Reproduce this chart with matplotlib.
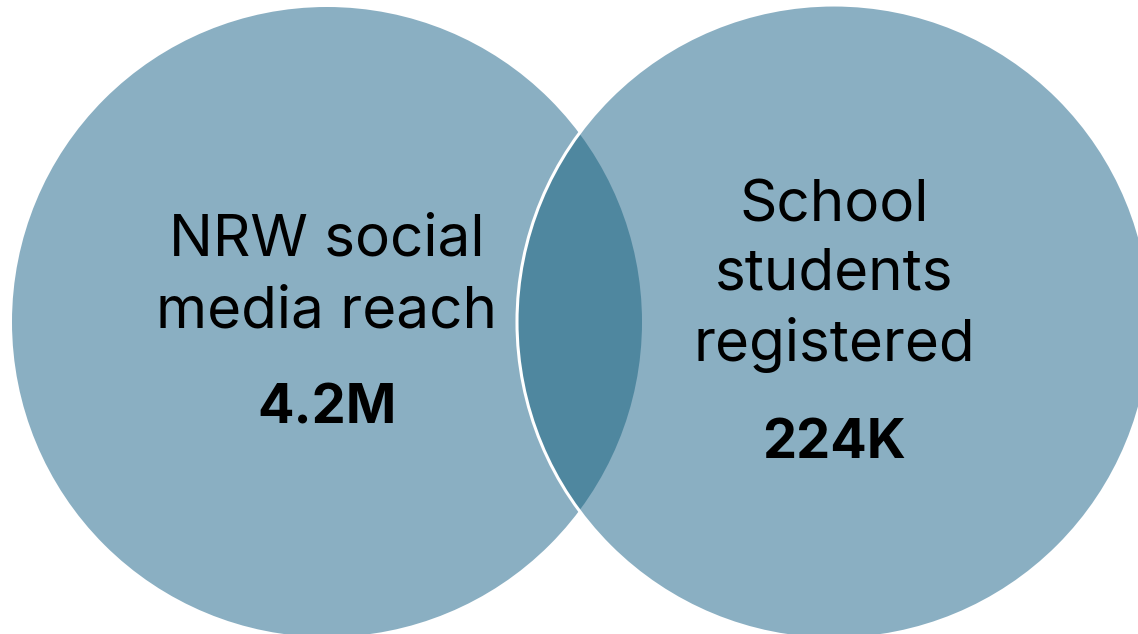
import matplotlib
matplotlib.use("Agg")
import matplotlib.pyplot as plt
from matplotlib.patches import Circle

# Data
set_labels = [["NRW social", "media reach"], ["School", "students", "registered"]]
set_values = ["4.2M", "224K"]

light = "#8AAFC2"
dark = "#4F879F"

W, H = 1138, 634
fig = plt.figure(figsize=(W / 100, H / 100), dpi=100)
ax = fig.add_axes([0, 0, 1, 1])
ax.set_xlim(0, W)
ax.set_ylim(H, 0)
ax.set_aspect("equal")
ax.axis("off")

c1 = (327, 322); r1 = 315
c2 = (834, 322); r2 = 317

ax.add_patch(Circle(c1, r1, facecolor=light, edgecolor="none", zorder=1))
ax.add_patch(Circle(c2, r2, facecolor=light, edgecolor="none", zorder=2))
# intersection (lens)
lens = Circle(c2, r2, facecolor=dark, edgecolor="none", zorder=3)
ax.add_patch(lens)
clipper = Circle(c1, r1, facecolor="none", edgecolor="none")
ax.add_patch(clipper)
lens.set_clip_path(clipper)
ax.add_patch(Circle(c2, r2, facecolor="none", edgecolor="white", linewidth=2.2, zorder=4))

font = "Inter"
label_size = 42
value_size = 39
# left texts
for txt, yb in zip(set_labels[0], [255, 327]):
    ax.text(c1[0], yb, txt, ha="center", va="baseline", fontsize=label_size, family=font, zorder=5)
ax.text(c1[0], 424, set_values[0], ha="center", va="baseline", fontsize=value_size,
        fontweight="bold", family=font, zorder=5)
# right texts
for txt, yb in zip(set_labels[1], [222, 290, 361]):
    ax.text(c2[0], yb, txt, ha="center", va="baseline", fontsize=label_size, family=font, zorder=5)
ax.text(c2[0], 458, set_values[1], ha="center", va="baseline", fontsize=value_size,
        fontweight="bold", family=font, zorder=5)

fig.savefig("out.png", dpi=100)
